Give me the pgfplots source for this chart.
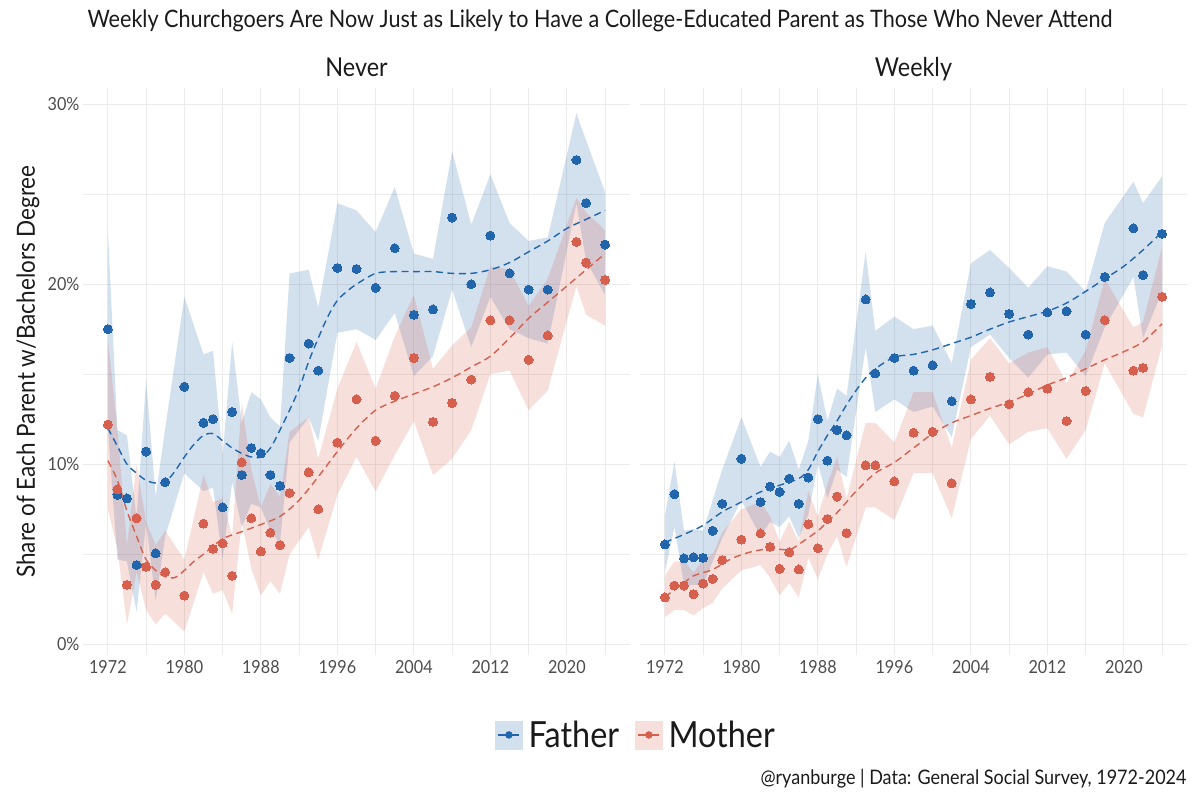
\documentclass[border=0pt]{standalone}
\usepackage{fontspec}
\setmainfont{Lato}[FakeStretch=0.9]
\usepackage{pgfplots}
\pgfplotsset{compat=1.18}
\usepackage{pgfplotstable}
\usepgfplotslibrary{fillbetween}
\definecolor{fc}{HTML}{2166AC}
\definecolor{mc}{HTML}{D6604D}
\definecolor{gridc}{HTML}{EBEBEB}
\definecolor{tickc}{HTML}{4D4D4D}
\definecolor{txtc}{HTML}{1A1A1A}

\pgfplotstableread{
year val lo hi
1972 17.5 12.0 23.0
1973 8.3 4.7 11.9
1974 8.1 4.6 11.6
1975 4.4 1.8 7.0
1976 10.7 6.7 14.7
1977 5.05 2.4 8.2
1978 9.0 6.0 12.0
1980 14.3 9.5 19.3
1982 12.3 8.5 16.1
1983 12.5 8.7 16.3
1984 7.6 4.7 10.5
1985 12.9 9.0 16.8
1986 9.4 6.5 12.3
1987 10.9 7.8 14.0
1988 10.6 7.6 13.6
1989 9.4 6.3 12.6
1990 8.8 5.6 12.1
1991 15.9 11.2 20.6
1993 16.7 12.6 20.8
1994 15.2 11.3 18.7
1996 20.9 17.3 24.5
1998 20.85 17.5 24.1
2000 19.8 16.9 22.9
2002 22.0 18.4 25.4
2004 18.3 14.9 21.7
2006 18.6 16.0 21.4
2008 23.7 19.7 27.4
2010 20.0 16.5 23.3
2012 22.7 19.3 26.1
2014 20.6 17.5 23.4
2016 19.7 17.0 22.4
2018 19.7 16.7 22.6
2021 26.9 24.5 29.5
2022 24.5 21.3 28.0
2024 22.2 19.4 25.1
}\nevF

\pgfplotstableread{
year val lo hi
1972 12.2 7.5 17.0
1973 8.6 5.3 11.9
1974 3.3 1.1 5.5
1975 7.0 4.0 10.0
1976 4.3 1.9 6.8
1977 3.3 1.1 5.5
1978 4.0 1.7 6.3
1980 2.7 0.7 4.7
1982 6.7 4.0 9.4
1983 5.3 2.8 7.9
1984 5.6 3.0 8.1
1985 3.8 1.7 6.0
1986 10.1 6.8 13.4
1987 7.0 4.2 9.7
1988 5.15 2.7 7.6
1989 6.2 3.5 8.9
1990 5.5 2.8 8.2
1991 8.4 5.0 11.8
1993 9.55 6.5 12.6
1994 7.5 4.7 10.3
1996 11.2 8.3 14.2
1998 13.6 10.4 16.8
2000 11.3 8.5 14.2
2002 13.8 10.5 17.1
2004 15.9 12.4 19.4
2006 12.35 9.4 15.3
2008 13.4 10.3 16.6
2010 14.7 11.9 17.6
2012 18.0 15.0 21.0
2014 18.0 15.2 20.8
2016 15.8 13.0 18.8
2018 17.15 14.1 20.3
2021 22.35 19.9 24.8
2022 21.2 18.3 24.0
2024 20.24 17.7 23.0
}\nevM

\pgfplotstableread{
year val lo hi
1972 5.54 4.0 7.1
1973 8.33 6.5 10.15
1974 4.77 3.3 6.3
1975 4.83 3.3 6.4
1976 4.8 3.3 6.3
1977 6.3 4.6 8.0
1978 7.8 5.9 9.7
1980 10.3 8.0 12.6
1982 7.9 6.0 9.85
1983 8.76 6.8 10.7
1984 8.46 6.5 10.4
1985 9.2 7.1 11.3
1986 7.8 5.9 9.7
1987 9.26 7.2 11.3
1988 12.5 10.0 15.0
1989 10.2 8.1 12.4
1990 11.9 9.7 14.2
1991 11.6 9.3 13.8
1993 19.15 16.5 21.8
1994 15.04 12.9 17.4
1996 15.9 13.6 18.2
1998 15.2 12.9 17.5
2000 15.5 13.2 17.7
2002 13.5 11.5 15.6
2004 18.9 16.5 21.15
2006 19.54 17.2 21.9
2008 18.35 15.9 20.9
2010 17.2 14.8 19.8
2012 18.43 16.1 21.0
2014 18.5 16.2 20.7
2016 17.2 14.9 19.6
2018 20.4 17.6 23.4
2021 23.1 20.4 25.7
2022 20.5 17.0 24.5
2024 22.8 19.6 26.0
}\wkF

\pgfplotstableread{
year val lo hi
1972 2.6 1.5 3.8
1973 3.26 1.9 4.6
1974 3.26 1.9 4.6
1975 2.78 1.6 4.0
1976 3.37 2.0 4.7
1977 3.63 2.3 5.0
1978 4.67 3.1 6.2
1980 5.81 4.1 7.5
1982 6.15 4.4 7.9
1983 5.41 3.7 7.1
1984 4.19 2.7 5.7
1985 5.1 3.4 6.8
1986 4.15 2.6 5.7
1987 6.67 4.8 8.5
1988 5.33 3.6 7.1
1989 6.96 5.0 8.9
1990 8.2 6.0 10.4
1991 6.17 4.3 8.1
1993 9.94 7.6 12.3
1994 9.94 7.6 12.3
1996 9.04 6.9 11.2
1998 11.75 9.5 14.0
2000 11.8 9.5 14.0
2002 8.94 7.0 10.9
2004 13.6 11.4 15.8
2006 14.85 12.7 17.0
2008 13.33 11.1 15.6
2010 14.0 11.8 16.2
2012 14.2 12.0 16.5
2014 12.4 10.3 14.5
2016 14.07 11.9 16.3
2018 18.0 15.6 20.3
2021 15.2 12.8 17.6
2022 15.35 12.6 17.9
2024 19.3 16.6 22.1
}\wkM

% smoothed (loess) curves
\pgfplotstableread{
year s
1972 12.0
1973 11.0
1974 10.0
1975 9.5
1976 9.1
1977 8.95
1978 9.0
1979 9.6
1980 10.4
1981 11.1
1982 11.6
1983 11.7
1984 11.3
1985 10.9
1986 10.6
1987 10.4
1988 10.4
1989 10.9
1990 11.9
1991 13.0
1992 14.2
1993 15.7
1994 17.0
1995 18.2
1996 19.1
1997 19.6
1998 20.0
2000 20.6
2002 20.7
2004 20.7
2006 20.7
2008 20.6
2010 20.6
2012 20.8
2014 21.2
2016 21.8
2018 22.4
2020 23.1
2022 23.6
2024 24.1
}\nevFs

\pgfplotstableread{
year s
1972 10.2
1973 9.1
1974 7.4
1975 6.0
1976 4.7
1977 4.1
1978 3.75
1979 3.7
1980 4.1
1981 4.6
1982 5.0
1984 5.85
1986 6.25
1988 6.65
1990 7.1
1992 8.0
1994 9.3
1996 10.7
1998 12.0
2000 13.0
2002 13.5
2004 13.9
2006 14.3
2008 14.8
2010 15.4
2012 16.0
2014 17.0
2016 18.1
2018 19.0
2020 19.9
2022 20.8
2024 21.7
}\nevMs

\pgfplotstableread{
year s
1972 5.65
1974 6.1
1976 6.6
1978 7.35
1980 7.9
1982 8.46
1984 8.83
1986 9.2
1987 9.7
1988 10.7
1989 11.6
1990 12.4
1991 13.3
1992 14.1
1993 14.8
1994 15.3
1996 15.95
1998 16.1
2000 16.35
2002 16.7
2004 17.05
2006 17.5
2008 17.9
2010 18.2
2012 18.5
2014 18.95
2016 19.6
2018 20.3
2020 21.0
2022 21.9
2024 22.9
}\wkFs

\pgfplotstableread{
year s
1972 2.63
1974 3.4
1975 3.8
1977 4.15
1979 4.76
1981 5.13
1983 5.3
1985 5.25
1986 5.55
1988 6.3
1989 6.8
1990 7.3
1991 7.9
1992 8.5
1994 9.5
1996 10.1
1998 10.9
2000 11.7
2002 12.3
2004 12.7
2006 13.1
2008 13.45
2010 13.9
2012 14.4
2014 14.8
2016 15.3
2018 15.8
2020 16.25
2022 16.8
2024 17.8
}\wkMs

\pgfplotsset{
  panel/.style={
    width=547pt, height=567pt, scale only axis,
    xmin=1969.4, xmax=2026.6, ymin=-0.6, ymax=30.9,
    axis line style={draw=none},
    major tick length=0pt, minor tick length=0pt,
    xtick={1972,1980,1988,1996,2004,2012,2020},
    xticklabels={1972,1980,1988,1996,2004,2012,2020},
    minor xtick={1976,1984,1992,2000,2008,2016,2024},
    ytick={0,10,20,30},
    minor ytick={5,15,25},
    grid=both,
    major grid style={gridc, line width=1.1pt},
    minor grid style={gridc, line width=0.55pt},
    tick label style={font=\fontsize{18}{21}\selectfont, text=tickc},
    xticklabel style={yshift=-2pt},
    title style={at={(axis description cs:0.5,1)}, anchor=base, yshift=5pt,
      font=\fontsize{26}{30}\selectfont, text=txtc},
  },
  rib/.style={draw=none, fill=#1, fill opacity=0.2},
  sm/.style={#1, line width=1.4pt, dash pattern=on 7pt off 4.5pt, smooth, no marks},
  pt/.style={#1, only marks, mark=*, mark size=4.5pt, mark options={draw=#1, fill=#1, line width=0pt}},
}

\begin{document}
\begin{tikzpicture}
\path (0pt,0pt) rectangle (1200pt,800pt);
\begin{axis}[panel, at={(83pt,145pt)}, anchor=south west, title={Never},
  yticklabels={0\%,10\%,20\%,30\%},
  ylabel={Share of Each Parent w/Bachelors Degree},
  ylabel style={at={(axis description cs:-0.1005,0.5)}, anchor=center,
    font=\fontsize{25}{29}\selectfont, text=txtc},
  legend style={at={(axis description cs:1.011,-0.141)}, anchor=center, draw=none,
    fill=none, font=\fontsize{36}{40}\selectfont, text=txtc,
    /tikz/every odd column/.append style={column sep=4pt},
    /tikz/every even column/.append style={column sep=14pt}},
  legend columns=2, legend cell align=left,
]
\addplot[name path=nfh, draw=none, forget plot] table[x=year,y=hi]{\nevF};
\addplot[name path=nfl, draw=none, forget plot] table[x=year,y=lo]{\nevF};
\addplot[rib=fc, forget plot] fill between[of=nfh and nfl];
\addplot[name path=nmh, draw=none, forget plot] table[x=year,y=hi]{\nevM};
\addplot[name path=nml, draw=none, forget plot] table[x=year,y=lo]{\nevM};
\addplot[rib=mc, forget plot] fill between[of=nmh and nml];
\addplot[sm=fc, forget plot] table[x=year,y=s]{\nevFs};
\addplot[sm=mc, forget plot] table[x=year,y=s]{\nevMs};
\addplot[pt=fc, forget plot] table[x=year,y=val]{\nevF};
\addplot[pt=mc, forget plot] table[x=year,y=val]{\nevM};
\addlegendimage{legend image code/.code={
  \fill[fc!20] (0pt,-14pt) rectangle (27pt,14pt);
  \draw[fc, line width=1.5pt] (3pt,0pt) -- (24pt,0pt);
  \fill[fc] (13.5pt,0pt) circle (3.5pt);}}
\addlegendentry{Father}
\addlegendimage{legend image code/.code={
  \fill[mc!20] (0pt,-14pt) rectangle (27pt,14pt);
  \draw[mc, line width=1.5pt] (3pt,0pt) -- (24pt,0pt);
  \fill[mc] (13.5pt,0pt) circle (3.5pt);}}
\addlegendentry{Mother}
\end{axis}
\begin{axis}[panel, at={(640pt,145pt)}, anchor=south west, title={Weekly},
  yticklabels={}]
\addplot[name path=wfh, draw=none] table[x=year,y=hi]{\wkF};
\addplot[name path=wfl, draw=none] table[x=year,y=lo]{\wkF};
\addplot[rib=fc] fill between[of=wfh and wfl];
\addplot[name path=wmh, draw=none] table[x=year,y=hi]{\wkM};
\addplot[name path=wml, draw=none] table[x=year,y=lo]{\wkM};
\addplot[rib=mc] fill between[of=wmh and wml];
\addplot[sm=fc] table[x=year,y=s]{\wkFs};
\addplot[sm=mc] table[x=year,y=s]{\wkMs};
\addplot[pt=fc] table[x=year,y=val]{\wkF};
\addplot[pt=mc] table[x=year,y=val]{\wkM};
\end{axis}
\node[anchor=base, font=\fontsize{24}{28}\selectfont, text=txtc] at (600pt,772pt)
  {Weekly Churchgoers Are Now Just as Likely to Have a College-Educated Parent as Those Who Never Attend};
\node[anchor=base east, font=\fontsize{20}{24}\selectfont, text=txtc] at (1190pt,15pt)
  {@ryanburge | Data: General Social Survey, 1972-2024};
\end{tikzpicture}
\end{document}
